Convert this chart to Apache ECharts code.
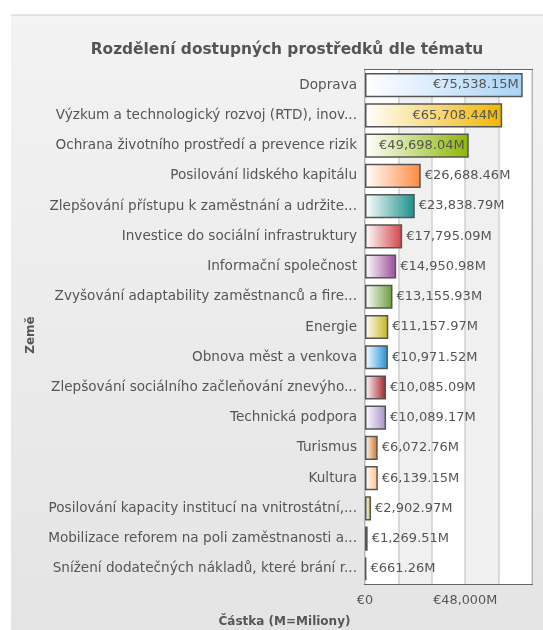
<!DOCTYPE html>
<html>
<head>
<meta charset="utf-8">
<script src="https://cdn.jsdelivr.net/npm/echarts@6/dist/echarts.min.js"></script>
<style>
html, body { margin: 0; padding: 0; background: #fff; }
#main { width: 543px; height: 630px; }
</style>
</head>
<body>
<div id="main"></div>
<script>
// témata (zkrácené jako v originále)
const categories = [
  'Doprava',
  'Výzkum a technologický rozvoj (RTD), inov...',
  'Ochrana životního prostředí a prevence rizik',
  'Posilování lidského kapitálu',
  'Zlepšování přístupu k zaměstnání a udržite...',
  'Investice do sociální infrastruktury',
  'Informační společnost',
  'Zvyšování adaptability zaměstnanců a fire...',
  'Energie',
  'Obnova měst a venkova',
  'Zlepšování sociálního začleňování znevýho...',
  'Technická podpora',
  'Turismus',
  'Kultura',
  'Posilování kapacity institucí na vnitrostátní,...',
  'Mobilizace reforem na poli zaměstnanosti a...',
  'Snížení dodatečných nákladů, které brání r...'
];
// částky v milionech EUR
const amounts = [
  75538.15, 65708.44, 49698.04, 26688.46, 23838.79, 17795.09, 14950.98,
  13155.93, 11157.97, 10971.52, 10085.09, 10089.17, 6072.76, 6139.15,
  2902.97, 1269.51, 661.26
];
const barColors = [
  '#a9d3f5', '#f2b600', '#8cb800', '#ff8a40', '#1a8f8a', '#d0454a', '#9a4c9a',
  '#6a9a3a', '#c4b41c', '#1e90d8', '#a81e24', '#a890c8', '#d0701c', '#ffc08a',
  '#c8b83c', '#a07a80', '#505050'
];
const xTickLabels = [0, 48000];

const font = 'DejaVu Sans, Verdana, sans-serif';
const fmt = v => '€' + v.toLocaleString('en-US', {
  minimumFractionDigits: 2, maximumFractionDigits: 2
}) + 'M';

const data = amounts.map((v, i) => ({
  value: v,
  itemStyle: {
    color: new echarts.graphic.LinearGradient(0, 0, 1, 0, [
      { offset: 0, color: '#ffffff' },
      { offset: 1, color: barColors[i] }
    ])
  },
  label: { position: i < 3 ? 'insideRight' : 'right' }
}));

var myChart = echarts.init(document.getElementById('main'));
myChart.setOption({
  animation: false,
  graphic: [
    {
      type: 'rect', z: -10, silent: true,
      shape: { x: 11, y: 15, width: 532, height: 615 },
      style: {
        fill: new echarts.graphic.LinearGradient(0, 0, 0, 1, [
          { offset: 0, color: '#f3f3f3' },
          { offset: 1, color: '#e4e4e4' }
        ])
      }
    },
    {
      type: 'line', z: -9, silent: true,
      shape: { x1: 11, y1: 15, x2: 543, y2: 15 },
      style: { stroke: '#cfcfcf', lineWidth: 1 }
    }
  ],
  title: {
    text: 'Rozdělení dostupných prostředků dle tématu',
    left: 282,
    top: 37,
    textAlign: 'center',
    textStyle: { fontFamily: font, fontSize: 15.4, fontWeight: 'bold', color: '#555' }
  },
  grid: {
    left: 365, right: 11, top: 70, bottom: 46,
    outerBoundsMode: 'none',
    containLabel: false,
    show: true, borderColor: '#666', borderWidth: 2
  },
  xAxis: {
    type: 'value',
    min: 0, max: 80000, interval: 16000,
    name: 'Částka (M=Miliony)',
    nameLocation: 'middle',
    nameGap: 32,
    nameTextStyle: { fontFamily: font, fontSize: 12, fontWeight: 'bold', color: '#555', padding: [0, 328, 0, 0] },
    axisLine: { show: false },
    axisTick: { show: false },
    axisLabel: {
      fontFamily: font, fontSize: 12.8, color: '#555', margin: 10,
      formatter: v => xTickLabels.indexOf(v) >= 0 ? '€' + v.toLocaleString('en-US') + (v ? 'M' : '') : ''
    },
    splitLine: { show: true, lineStyle: { color: '#d0d0d0', width: 1.5 } },
    splitArea: { show: true, areaStyle: { color: ['#ffffff', '#f0f0f0'] } }
  },
  yAxis: {
    type: 'category',
    data: categories,
    inverse: true,
    name: 'Země',
    nameLocation: 'middle',
    nameGap: 328,
    nameRotate: 90,
    nameTextStyle: { fontFamily: font, fontSize: 12, fontWeight: 'bold', color: '#555', padding: [0, 16, 0, 0] },
    axisLine: { show: false },
    axisTick: { show: false },
    axisLabel: { fontFamily: font, fontSize: 13.6, color: '#555', margin: 8 }
  },
  series: [{
    type: 'bar',
    data: data,
    barWidth: '80%',
    itemStyle: { borderColor: '#555', borderWidth: 1.5 },
    label: {
      show: true,
      fontFamily: font, fontSize: 13, color: '#555',
      distance: 4,
      formatter: p => fmt(p.value)
    }
  }]
});
</script>
</body>
</html>
